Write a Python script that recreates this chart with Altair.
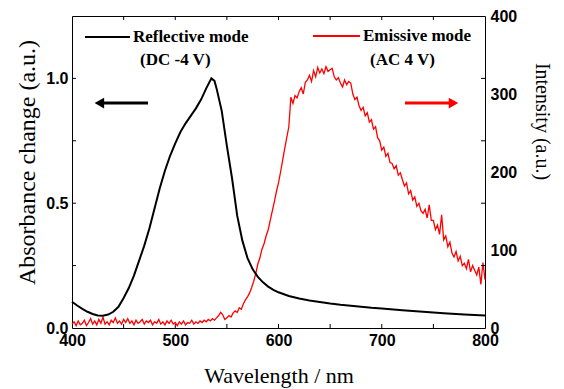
import altair as alt
import pandas as pd

# ---- data ----
abs_wl = [400, 405, 410, 415, 420, 425, 430, 435, 440, 445, 450, 455, 460, 465, 470,
          475, 480, 485, 490, 495, 500, 505, 510, 515, 520, 525, 530, 535, 538, 540,
          545, 550, 555, 560, 565, 570, 575, 580, 585, 590, 595, 600, 610, 620, 630,
          640, 650, 660, 670, 680, 690, 700, 720, 740, 760, 780, 800]
abs_val = [0.105, 0.09, 0.077, 0.065, 0.056, 0.05, 0.049, 0.054, 0.065, 0.085, 0.12, 0.16, 0.21, 0.27, 0.33,
           0.40, 0.48, 0.56, 0.63, 0.69, 0.74, 0.785, 0.82, 0.85, 0.88, 0.915, 0.96, 1.0, 0.99, 0.96,
           0.87, 0.73, 0.60, 0.45, 0.35, 0.28, 0.235, 0.205, 0.183, 0.166, 0.153, 0.143, 0.128, 0.118, 0.11,
           0.104, 0.098, 0.093, 0.089, 0.085, 0.081, 0.078, 0.071, 0.065, 0.059, 0.054, 0.05]

em_wl = list(range(400, 801, 2))
em_val = [5, 8, 3, 9, 4, 6, 10, 3, 7, 12,
          5, 9, 4, 11, 6, 14, 5, 8, 4, 10,
          7, 13, 6, 9, 5, 11, 7, 12, 6, 9,
          4, 10, 6, 8, 11, 5, 9, 7, 10, 4,
          8, 6, 11, 5, 8, 4, 9, 6, 10, 5,
          7, 3, 8, 5, 9, 4, 7, 6, 10, 5,
          8, 6, 9, 7, 10, 8, 11, 9, 12, 10,
          13, 16, 20, 17, 11, 13, 16, 14, 19, 22,
          20, 26, 24, 31, 36, 40, 45, 52, 60, 70,
          82, 90, 101, 108, 118, 126, 138, 150, 162, 175,
          186, 200, 215, 230, 244, 258, 296, 288, 298, 295,
          303, 308, 300, 315, 318, 324, 316, 330, 322, 334,
          327, 332, 326, 335, 329, 331, 333, 322, 318, 321,
          314, 309, 318, 312, 316, 314, 300, 293, 296, 285,
          279, 283, 272, 276, 264, 267, 255, 258, 244, 240,
          228, 232, 220, 224, 212, 211, 204, 208, 196, 199,
          190, 182, 186, 172, 176, 164, 168, 156, 160, 150,
          147, 152, 141, 158, 138, 138, 126, 132, 120, 145,
          113, 118, 104, 110, 96, 91, 98, 86, 92, 80,
          83, 76, 88, 72, 80, 74, 68, 78, 56, 84,
          62]

x_labels = [400, 500, 600, 700, 800]
x_ticks = [450, 500, 550, 600, 650, 700, 750]
left_labels = [0.0, 0.5, 1.0]
y_ticks = [0.25, 0.5, 0.75, 1.0]
right_labels = [0, 100, 200, 300, 400]

legend_text = ["Reflective mode", "(DC -4 V)", "Emissive mode", "(AC 4 V)"]

# ---- chart ----
W, H = 413, 312
SANS = "Liberation Sans"
SERIF = "Liberation Serif"
X0, X1, Y0, Y1 = 400, 800, 0.0, 1.25
TX = 4 * (X1 - X0) / W      # 4 px expressed in x data units
TY = 4 * (Y1 - Y0) / H      # 4 px expressed in y data units

xs = alt.Scale(domain=[X0, X1], nice=False, zero=False)
ya = alt.Scale(domain=[Y0, Y1], nice=False, zero=False)
ye = alt.Scale(domain=[0, 400], nice=False, zero=False)

df_abs = pd.DataFrame({"wl": abs_wl, "a": abs_val})
df_em = pd.DataFrame({"wl": em_wl, "i": em_val})

red = alt.Chart(df_em).mark_line(color="#ff0000", strokeWidth=1.3).encode(
    x=alt.X("wl:Q", scale=xs, axis=None),
    y=alt.Y("i:Q", scale=ye, axis=alt.Axis(
        orient="right", values=right_labels, ticks=False, domain=False, grid=False,
        labelFont=SANS, labelFontSize=16, labelFontWeight="bold", labelColor="black",
        labelPadding=5, labelFlush=False, labelOverlap=False,
        title="Intensity (a.u.)", titleFont=SERIF, titleFontSize=20,
        titleFontWeight="normal", titleColor="black", titleAngle=90,
        titleX=56, titleY=105, titleBaseline="middle")),
)

black = alt.Chart(df_abs).mark_line(color="black", strokeWidth=2).encode(
    x=alt.X("wl:Q", scale=xs, axis=alt.Axis(
        orient="bottom", values=x_labels, ticks=False, domain=False, grid=False,
        labelFont=SANS, labelFontSize=16, labelFontWeight="bold", labelColor="black",
        labelPadding=4, labelFlush=False, labelOverlap=False,
        title="Wavelength / nm", titleFont=SERIF, titleFontSize=22,
        titleFontWeight="normal", titleColor="black",
        titleX=W / 2, titleY=47, titleBaseline="middle")),
    y=alt.Y("a:Q", scale=ya, axis=alt.Axis(
        orient="left", values=left_labels, format=".1f", ticks=False, domain=False, grid=False,
        labelFont=SANS, labelFontSize=16, labelFontWeight="bold", labelColor="black",
        labelPadding=4, labelFlush=False, labelOverlap=False,
        title="Absorbance change (a.u.)", titleFont=SERIF, titleFontSize=24,
        titleFontWeight="normal", titleColor="black", titleAngle=-90,
        titleX=-45, titleY=146, titleBaseline="middle")),
)

# inward tick marks (placed through the scales, at the tick values)
tick_rows = []
for v in x_ticks:
    tick_rows.append({"x1": v, "x2": v, "y1": Y0, "y2": Y0 + TY})
    tick_rows.append({"x1": v, "x2": v, "y1": Y1 - TY, "y2": Y1})
for v in y_ticks:
    tick_rows.append({"x1": X0, "x2": X0 + TX, "y1": v, "y2": v})
    tick_rows.append({"x1": X1 - TX, "x2": X1, "y1": v, "y2": v})
ticks = alt.Chart(pd.DataFrame(tick_rows)).mark_rule(color="black", strokeWidth=1).encode(
    x=alt.X("x1:Q", scale=xs, axis=None), x2="x2:Q",
    y=alt.Y("y1:Q", scale=ya, axis=None), y2="y2:Q",
)

# legend lines and arrows (positions in data units)
leg_lines = pd.DataFrame({
    "x1": [412.6, 633.4], "x2": [456.2, 678.9], "y": [1.166, 1.17],
    "c": ["black", "#ff0000"],
})
legend_lines = alt.Chart(leg_lines).mark_rule(strokeWidth=2).encode(
    x=alt.X("x1:Q", scale=xs, axis=None), x2="x2:Q",
    y=alt.Y("y:Q", scale=ya, axis=None),
    color=alt.Color("c:N", scale=None),
)

leg_txt = pd.DataFrame({
    "x": [459.0, 465.9, 681.8, 688.6],
    "y": [1.166, 1.074, 1.17, 1.074],
    "t": legend_text,
})
legend_texts = alt.Chart(leg_txt).mark_text(
    align="left", baseline="middle", font=SERIF, fontSize=17, fontWeight="bold", color="black"
).encode(
    x=alt.X("x:Q", scale=xs, axis=None),
    y=alt.Y("y:Q", scale=ya, axis=None),
    text="t:N",
)

arr = pd.DataFrame({
    "x1": [426.0, 722.5], "x2": [473.6, 770.0], "y": [0.901, 0.901],
    "hx": [426.5, 769.5], "s": ["triangle-left", "triangle-right"],
    "c": ["black", "#ff0000"],
})
arrow_shafts = alt.Chart(arr).mark_rule(strokeWidth=3).encode(
    x=alt.X("x1:Q", scale=xs, axis=None), x2="x2:Q",
    y=alt.Y("y:Q", scale=ya, axis=None),
    color=alt.Color("c:N", scale=None),
)
arrow_heads = alt.Chart(arr).mark_point(filled=True, size=120, opacity=1).encode(
    x=alt.X("hx:Q", scale=xs, axis=None),
    y=alt.Y("y:Q", scale=ya, axis=None),
    shape=alt.Shape("s:N", scale=None),
    color=alt.Color("c:N", scale=None),
)

chart = alt.layer(
    red, black, ticks, legend_lines, legend_texts, arrow_shafts, arrow_heads
).resolve_scale(
    y="independent"
).resolve_axis(
    x="independent", y="independent"
).properties(
    width=W, height=H,
    autosize=alt.AutoSizeParams(type="none"),
    padding={"left": 64, "top": 8, "right": 71, "bottom": 61},
    background="white",
).configure_view(
    stroke="black", strokeWidth=1
)

chart.save("out.html", embed_options={"renderer": "svg", "actions": False})
